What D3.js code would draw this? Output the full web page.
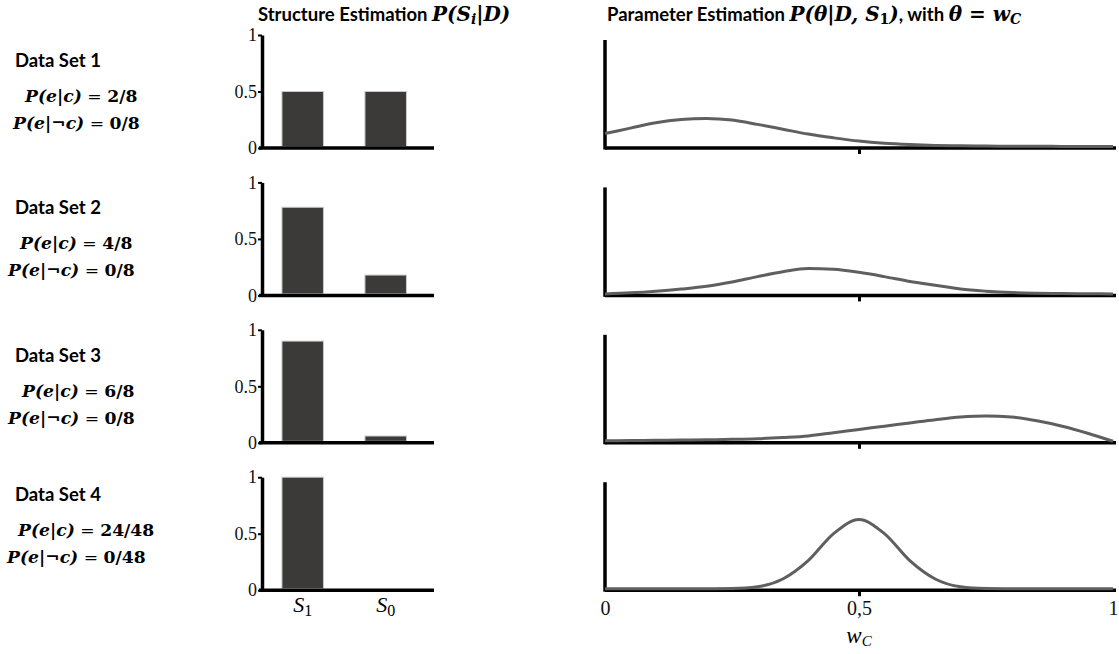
<!DOCTYPE html>
<html>
<head>
<meta charset="utf-8">
<script src="https://cdn.jsdelivr.net/npm/d3@7"></script>
<style>
  body { margin: 0; background: #fff; }
  .sans { font-family: Lato, "Open Sans", sans-serif; font-weight: 700; }
  .serif { font-family: "Liberation Serif", "DejaVu Serif", serif; }
  .math { font-family: "DejaVu Serif", "Liberation Serif", serif; }
</style>
</head>
<body>
<svg width="1119" height="654"></svg>
<script>
  // data
  const dataSetNames = ['Data Set 1', 'Data Set 2', 'Data Set 3', 'Data Set 4'];
  const countsC = ['2/8', '4/8', '6/8', '24/48'];
  const countsNotC = ['0/8', '0/8', '0/8', '0/48'];
  const structures = ['S1', 'S0'];
  const probS1 = [0.5, 0.78, 0.9, 1.0];
  const probS0 = [0.5, 0.18, 0.06, 0.0];

  // posterior of w_C, sampled every 0.05 (height as share of the axis)
  const wGrid = [0, 0.05, 0.1, 0.15, 0.2, 0.25, 0.3, 0.35, 0.4, 0.45, 0.5,
                 0.55, 0.6, 0.65, 0.7, 0.75, 0.8, 0.85, 0.9, 0.95, 1];
  const post1 = [0.12, 0.17, 0.22, 0.25, 0.26, 0.245, 0.205, 0.16, 0.115, 0.08, 0.05,
                 0.03, 0.018, 0.01, 0.006, 0.004, 0.003, 0.002, 0.001, 0.001, 0];
  const post2 = [0.0, 0.01, 0.025, 0.045, 0.07, 0.11, 0.16, 0.205, 0.235, 0.228, 0.2,
                 0.16, 0.115, 0.08, 0.045, 0.025, 0.012, 0.006, 0.003, 0.001, 0];
  const post3 = [0.005, 0.007, 0.009, 0.011, 0.014, 0.018, 0.024, 0.035, 0.05, 0.08, 0.11,
                 0.14, 0.17, 0.2, 0.225, 0.235, 0.225, 0.19, 0.14, 0.075, 0];
  const post4 = [0, 0, 0, 0, 0, 0.002, 0.018, 0.09, 0.26, 0.51, 0.64,
                 0.51, 0.26, 0.09, 0.018, 0.002, 0, 0, 0, 0, 0];
  const posteriors = [post1, post2, post3, post4];
  const wTicks = [0, 0.5, 1];
  const wTickLabels = ['0', '0,5', '1'];

  // where the two formula lines of each data set start
  const line1X = [25, 20, 22, 18];
  const line2X = [13, 8, 8, 7];

  const svg = d3.select('svg');

  // text made of styled pieces
  const richText = (sel, parts) => {
    parts.forEach(p => {
      const t = sel.append('tspan').text(p.t);
      if (p.italic) t.attr('font-style', 'italic');
      if (p.bold) t.attr('font-weight', 700);
      if (p.sub) t.attr('baseline-shift', '-22%').attr('font-size', p.sub);
      if (p.cls) t.attr('class', p.cls);
      if (p.size) t.attr('font-size', p.size);
    });
    return sel;
  };

  // column titles
  richText(svg.append('text').attr('x', 258).attr('y', 21).attr('font-size', 18.5), [
    { t: 'Structure Estimation ', cls: 'sans' },
    { t: 'P(S', cls: 'math', italic: true, bold: true, size: 20 },
    { t: 'i', cls: 'math', italic: true, bold: true, sub: 14 },
    { t: '|D)', cls: 'math', italic: true, bold: true, size: 20 }
  ]);
  richText(svg.append('text').attr('x', 607).attr('y', 21).attr('font-size', 18.5), [
    { t: 'Parameter Estimation ', cls: 'sans' },
    { t: 'P(θ|D, S', cls: 'math', italic: true, bold: true, size: 20 },
    { t: '1', cls: 'math', bold: true, sub: 14 },
    { t: ')', cls: 'math', italic: true, bold: true, size: 20 },
    { t: ', with ', cls: 'sans' },
    { t: 'θ = ', cls: 'math', italic: true, bold: true, size: 20 },
    { t: ' w', cls: 'math', italic: true, bold: true, size: 20 },
    { t: 'C', cls: 'math', italic: true, bold: true, sub: 14 }
  ]);

  const rowTop = i => 35 + i * 147.4;
  const barHeight = 113;
  const curveHeight = 108;

  const xBand = d3.scaleBand()
    .domain(structures)
    .range([262, 434])
    .paddingInner(0.5)
    .paddingOuter(0.286)
    .align(0.42);

  const xW = d3.scaleLinear().domain([0, 1]).range([605, 1113]);

  dataSetNames.forEach((name, i) => {
    const base = rowTop(i) + barHeight;
    const shift = i === 3 ? -8 : 0;

    // left labels
    svg.append('text').attr('class', 'sans')
      .attr('x', 15).attr('y', rowTop(i) + 32 + shift)
      .attr('font-size', 18.5).text(name);

    const mathSize = 17.2;
    const line1 = svg.append('text').attr('class', 'math').attr('font-size', mathSize)
      .attr('x', line1X[i]).attr('y', rowTop(i) + 67 + shift);
    richText(line1, [
      { t: 'P(e|c)', italic: true, bold: true },
      { t: ' = ' },
      { t: countsC[i], bold: true }
    ]);
    const line2 = svg.append('text').attr('class', 'math').attr('font-size', mathSize)
      .attr('x', line2X[i]).attr('y', rowTop(i) + 94 + shift);
    richText(line2, [
      { t: 'P(e|¬c)', italic: true, bold: true },
      { t: ' = ' },
      { t: countsNotC[i], bold: true }
    ]);

    // structure bars
    const yBar = d3.scaleLinear().domain([0, 1]).range([base, rowTop(i)]);
    const barValues = [probS1[i], probS0[i]];

    svg.append('g')
      .selectAll('rect')
      .data(structures)
      .enter()
      .append('rect')
      .attr('x', d => xBand(d))
      .attr('width', xBand.bandwidth())
      .attr('y', (d, j) => yBar(barValues[j]))
      .attr('height', (d, j) => Math.max(0, yBar(0) - yBar(barValues[j]) - 1.5))
      .attr('fill', '#3b3a39')
      .attr('stroke', '#c9c9c9')
      .attr('stroke-width', 1);

    const yAxisG = svg.append('g')
      .attr('transform', `translate(262,0)`)
      .call(d3.axisLeft(yBar).tickValues([0, 0.5, 1]).tickSize(4).tickSizeOuter(0).tickPadding(1)
        .tickFormat(d3.format('')));
    yAxisG.select('.domain').attr('stroke-width', 3.5);
    yAxisG.selectAll('.tick line').attr('stroke-width', 2);
    yAxisG.selectAll('.tick text').attr('class', 'serif').attr('font-size', 18).attr('fill', '#111');

    const xAxisG = svg.append('g')
      .attr('transform', `translate(0,${base})`)
      .call(d3.axisBottom(xBand).tickSize(0).tickSizeOuter(0).tickFormat(''));
    xAxisG.select('.domain').attr('stroke-width', 3.5).attr('d', 'M259,0H434');

    if (i === 3) {
      structures.forEach(s => {
        richText(svg.append('text').attr('class', 'serif')
          .attr('x', xBand(s) + xBand.bandwidth() / 2).attr('y', base + 22)
          .attr('text-anchor', 'middle').attr('font-size', 22), [
          { t: 'S', italic: true },
          { t: s.slice(1), sub: 16 }
        ]);
      });
    }

    // parameter posterior
    const yW = d3.scaleLinear().domain([0, 1]).range([base, base - curveHeight]);

    const wAxis = d3.axisBottom(xW).tickValues(wTicks).tickSize(6).tickSizeOuter(0).tickPadding(5)
      .tickFormat((d, k) => (i === 3 ? wTickLabels[k] : ''));
    const wAxisG = svg.append('g')
      .attr('transform', `translate(0,${base})`)
      .call(wAxis);
    wAxisG.select('.domain').attr('stroke-width', 3.5).attr('d', 'M605,0H1116');
    wAxisG.selectAll('.tick line').attr('stroke-width', 3)
      .attr('display', d => (d === 0.5 ? null : 'none'));
    wAxisG.selectAll('.tick text').attr('class', 'serif').attr('font-size', 20).attr('fill', '#111');

    svg.append('line')
      .attr('x1', xW(0)).attr('x2', xW(0))
      .attr('y1', yW(1)).attr('y2', base + 1.5)
      .attr('stroke', '#000').attr('stroke-width', 3.5);

    const line = d3.line()
      .x((d, k) => xW(wGrid[k]))
      .y(d => yW(d) - 1.5)
      .curve(d3.curveMonotoneX);

    svg.append('path')
      .attr('d', line(posteriors[i]))
      .attr('fill', 'none')
      .attr('stroke', '#5f5f5f')
      .attr('stroke-width', 3);

    if (i === 3) {
      richText(svg.append('text').attr('class', 'serif')
        .attr('x', xW(0.5)).attr('y', base + 53)
        .attr('text-anchor', 'middle').attr('font-size', 23), [
        { t: 'w', italic: true },
        { t: 'C', italic: true, sub: 15 }
      ]);
    }
  });
</script>
</body>
</html>
